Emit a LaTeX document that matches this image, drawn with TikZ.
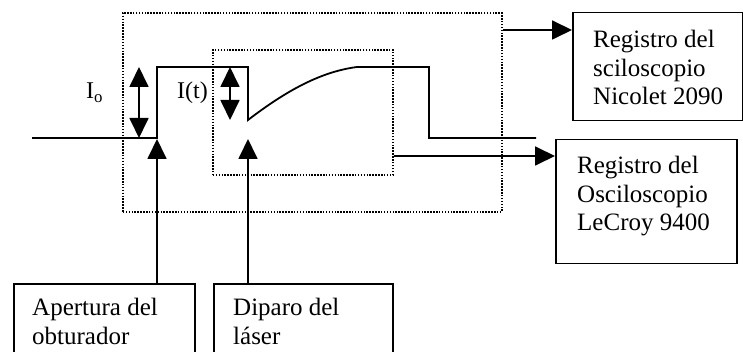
\documentclass[tikz,border=0pt]{standalone}
\usepackage{fontspec}
\setmainfont{Liberation Serif}
\usetikzlibrary{positioning,calc,arrows.meta}
\tikzset{
    every node/.style={font=\fontsize{25}{28.5}\selectfont},
    framebox/.style={draw=black, line width=1.5pt, inner sep=0pt, anchor=north west},
    dotbox/.style={draw=black, line width=1.7pt, dash pattern=on 1.5pt off 1.4pt, inner sep=0pt, anchor=north west},
    boxtext/.style={align=left, inner sep=0pt, anchor=north west},
    levellabel/.style={font=\fontsize{24}{28}\selectfont, inner sep=0pt, anchor=base west},
    signal/.style={line width=1.8pt, line join=miter},
    arrow/.style={-{Triangle[length=20pt,width=19pt]}, line width=1.8pt},
    dblarrow/.style={{Triangle[length=20pt,width=19pt]}-{Triangle[length=20pt,width=19pt]}, line width=1.8pt},
}

\begin{document}
\begin{tikzpicture}[x=1pt,y=-1pt]
\useasboundingbox (0,0) rectangle (743,352);

% dotted windows of the two scopes
\node[dotbox, minimum width=379pt, minimum height=199pt] (outer) at (122,12) {};
\node[dotbox, minimum width=180pt, minimum height=125pt] (inner) at (212,49) {};

% recorder and trigger boxes
\node[framebox, minimum width=170pt, minimum height=108pt] (nicolet) at (572,12) {};
\node[boxtext] at ($(nicolet.north west)+(21,18)$) {Registro del\\sciloscopio\\Nicolet 2090};
\node[framebox, minimum width=181pt, minimum height=124pt] (lecroy) at (555,139) {};
\node[boxtext] at ($(lecroy.north west)+(22,17)$) {Registro del\\Osciloscopio\\LeCroy 9400};
\node[framebox, minimum width=181pt, minimum height=90pt] (shutter) at (13,283) {};
\node[boxtext] at ($(shutter.north west)+(19,15)$) {Apertura del\\obturador};
\node[framebox, minimum width=179pt, minimum height=90pt] (laser) at (213,283) {};
\node[boxtext] at ($(laser.north west)+(20,15)$) {Diparo del\\láser};

% signal trace
\coordinate (open) at (157,139);
\coordinate (fire) at (248,139);
\draw[signal] (32,138) -- (157,138) -- (157,67) -- (248,67) -- (248,120)
    .. controls (282,94) and (318,72) .. (357,67) -- (429,67) -- (429,138) -- (536,138);

% intensity levels
\coordinate (Iotop) at (139,67);
\coordinate (Iobot) at (139,138);
\coordinate (Ittop) at (230,67);
\coordinate (Itbot) at (230,120);
\draw[dblarrow] (Iotop) -- (Iobot);
\draw[dblarrow] (Ittop) -- (Itbot);
\node[levellabel] (Io) at (86,99) {I\textsubscript{o}};
\node[levellabel] (It) at (177,99) {I(t)};

% triggers
\draw[arrow] (shutter.north -| open) -- (open);
\draw[arrow] (laser.north -| fire) -- (fire);

% outputs to the recorders
\coordinate (slowin) at ($(nicolet.north west)+(0,18)$);
\coordinate (fastin) at ($(lecroy.north west)+(0,17)$);
\draw[arrow] (outer.east |- slowin) -- (slowin);
\draw[arrow] (inner.east |- fastin) -- (fastin);

\end{tikzpicture}
\end{document}
